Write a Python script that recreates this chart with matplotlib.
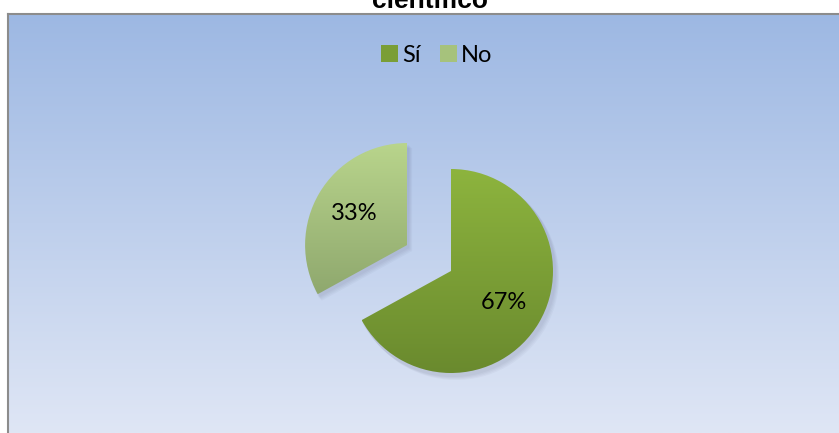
import matplotlib.pyplot as plt
import numpy as np
from matplotlib.colors import LinearSegmentedColormap
from matplotlib.patches import Patch, Wedge

labels = ['Sí', 'No']
values = [67, 33]
explode = [0, 0.5]
top_colors = ['#8db43e', '#b9d58c']
bottom_colors = ['#6a8a2e', '#8fa86e']
legend_colors = ['#7a9e36', '#a6c27c']
title = 'científico'

W, H = 839, 433
fig = plt.figure(figsize=(W / 100, H / 100), dpi=100)
fig.patch.set_facecolor('white')

# area del grafico con degradado
bg = fig.add_axes([8 / W, 0, 1 - 8 / W, 1 - 14 / H])
grad = np.linspace(0, 1, 256).reshape(-1, 1)
bg_cmap = LinearSegmentedColormap.from_list('bg', ['#9db8e3', '#dfe6f5'])
bg.imshow(grad, aspect='auto', cmap=bg_cmap, extent=[0, 1, 0, 1])
bg.set_xticks([])
bg.set_yticks([])
for s in ['right', 'bottom']:
    bg.spines[s].set_visible(False)
for s in ['left', 'top']:
    bg.spines[s].set_color('#8c8c8c')
    bg.spines[s].set_linewidth(1.5)

ax = fig.add_axes([0, 0, 1, 1])
ax.patch.set_alpha(0)
cx, cy, r = 451, H - 271, 102

# pie() desplaza en unidades de datos, asi que se escala con el radio
wedges, texts, autotexts = ax.pie(
    values, explode=[e * r for e in explode], startangle=90, counterclock=False,
    center=(cx, cy), radius=r,
    autopct=lambda p: f'{round(p)}%', pctdistance=0.6,
    wedgeprops={'linewidth': 0},
    textprops={'fontsize': 17, 'family': 'Lato', 'color': 'black'})

# sombra suave
for w in wedges:
    for k in range(4):
        sh = Wedge((w.center[0] + 2 + k, w.center[1] - 3 - k), w.r + 1,
                   w.theta1, w.theta2, facecolor='#404060', alpha=0.04,
                   linewidth=0, zorder=0.5)
        ax.add_patch(sh)

# relleno degradado de cada porcion
for w, c0, c1 in zip(wedges, top_colors, bottom_colors):
    ext = w.get_path().get_extents()
    cmap = LinearSegmentedColormap.from_list('w', [c0, c1])
    im = ax.imshow(grad, cmap=cmap, aspect='auto', zorder=1.5,
                   extent=[ext.x0, ext.x1, ext.y0, ext.y1])
    im.set_clip_path(w)
    w.set_facecolor('none')

for t in autotexts:
    t.set_zorder(5)

ax.set_xlim(0, W)
ax.set_ylim(0, H)
ax.axis('off')

handles = [Patch(facecolor=c, edgecolor='none') for c in legend_colors]
fig.legend(handles, labels, loc='center', bbox_to_anchor=(437 / W, 1 - 55 / H),
           ncol=2, frameon=False, prop={'family': 'Lato', 'size': 17},
           handlelength=0.7, handleheight=0.7, handletextpad=0.2,
           columnspacing=0.8)

fig.text(430 / W, 1 - 8 / H, title, ha='center', va='baseline',
         fontsize=19, fontweight='bold', family='Liberation Sans')

fig.savefig('out.png', dpi=100)
